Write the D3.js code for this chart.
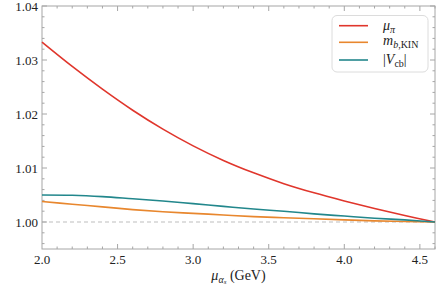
<!DOCTYPE html>
<html>
<head>
<meta charset="utf-8">
<script src="https://cdn.jsdelivr.net/npm/d3@7"></script>
<style>
html,body{margin:0;padding:0;background:#fff;}
svg text{font-family:"Liberation Serif","Times New Roman",serif;}
</style>
</head>
<body>
<svg id="chart" width="436" height="287"></svg>
<script>
const xValues = [2.0,2.2,2.4,2.6,2.8,3.0,3.2,3.4,3.6,3.8,4.0,4.2,4.4,4.6];
const muPi    = [1.0333,1.0288,1.0246,1.0207,1.0172,1.0141,1.0114,1.0091,1.0071,1.0054,1.0039,1.0025,1.0012,1.0000];
const mbKin   = [1.0038,1.0033,1.0028,1.0023,1.0019,1.0016,1.0013,1.0010,1.0008,1.0006,1.0004,1.0002,1.0001,1.0000];
const vcb     = [1.0050,1.00495,1.0047,1.0043,1.0039,1.0034,1.0029,1.0024,1.0020,1.0015,1.0011,1.0007,1.0004,1.0000];
const xTicks = [2.0,2.5,3.0,3.5,4.0,4.5];
const yTicks = [1.00,1.01,1.02,1.03,1.04];
const refValue = 1.00;

const svg = d3.select("#chart");
const m = {l:42, r:1, t:6, b:38};
const W = 436, H = 287;
const x = d3.scaleLinear().domain([2.0,4.6]).range([m.l, W-m.r]);
const y = d3.scaleLinear().domain([0.995,1.04]).range([H-m.b, m.t]);

const frameCol = "#a6a6a6";
const x0 = x.range()[0], x1 = x.range()[1], y0 = y.range()[0], y1 = y.range()[1];

// dashed reference line
svg.append("line").attr("x1",x0).attr("x2",x1).attr("y1",y(refValue)).attr("y2",y(refValue))
  .attr("stroke","#bdbdbd").attr("stroke-width",1).attr("stroke-dasharray","4,3");

// ticks
const xMinor = d3.range(21,47).map(d=>d/10);
const yMinor = d3.range(498,521).map(d=>d/500);
const tg = svg.append("g").attr("stroke",frameCol).attr("stroke-width",1);
xMinor.forEach(v=>{
  const major = xTicks.some(t=>Math.abs(t-v)<1e-9);
  const L = major?5:2.5;
  tg.append("line").attr("x1",x(v)).attr("x2",x(v)).attr("y1",y0).attr("y2",y0-L);
  tg.append("line").attr("x1",x(v)).attr("x2",x(v)).attr("y1",y1).attr("y2",y1+L);
});
yMinor.forEach(v=>{
  const major = yTicks.some(t=>Math.abs(t-v)<1e-9);
  const L = major?5:2.5;
  tg.append("line").attr("y1",y(v)).attr("y2",y(v)).attr("x1",x0).attr("x2",x0+L);
  tg.append("line").attr("y1",y(v)).attr("y2",y(v)).attr("x1",x1).attr("x2",x1-L);
});

// frame
svg.append("rect").attr("x",x0).attr("y",y1).attr("width",x1-x0).attr("height",y0-y1)
  .attr("fill","none").attr("stroke",frameCol).attr("stroke-width",1);

// tick labels
svg.append("g").selectAll("text").data(xTicks).join("text")
  .attr("x",d=>x(d)).attr("y",y0+15).attr("text-anchor","middle")
  .attr("font-size",13).attr("fill","#222").text(d=>d.toFixed(1));
svg.append("g").selectAll("text").data(yTicks).join("text")
  .attr("x",x0-4).attr("y",d=>y(d)+4.5).attr("text-anchor","end")
  .attr("font-size",13).attr("fill","#222").text(d=>d.toFixed(2));

// lines
const series = [
  {vals:muPi, color:"#e0362c"},
  {vals:mbKin, color:"#e8872e"},
  {vals:vcb, color:"#22878c"}
];
const line = d3.line().x(d=>x(d[0])).y(d=>y(d[1])).curve(d3.curveCatmullRom.alpha(0.5));
series.forEach(s=>{
  svg.append("path").datum(xValues.map((v,i)=>[v,s.vals[i]]))
    .attr("d",line).attr("fill","none").attr("stroke",s.color).attr("stroke-width",1.6);
});

// legend
const lg = svg.append("g");
lg.append("rect").attr("x",332).attr("y",15.5).attr("width",96).attr("height",56.5)
  .attr("rx",5).attr("fill","#fff").attr("stroke","#dcdcdc").attr("stroke-width",1);
const ly = [25.7,42.3,60];
series.forEach((s,i)=>{
  lg.append("line").attr("x1",339).attr("x2",368).attr("y1",ly[i]).attr("y2",ly[i])
    .attr("stroke",s.color).attr("stroke-width",1.6);
});
let t = lg.append("text").attr("x",383).attr("y",ly[0]+4).attr("font-size",14).attr("fill","#222");
t.append("tspan").attr("font-style","italic").text("μ");
t.append("tspan").attr("font-style","italic").attr("font-size",10).attr("dy",3).text("π");
t = lg.append("text").attr("x",383).attr("y",ly[1]+3).attr("font-size",14).attr("fill","#222");
t.append("tspan").attr("font-style","italic").text("m");
t.append("tspan").attr("font-style","italic").attr("font-size",10).attr("dy",3).text("b");
t.append("tspan").attr("font-size",10).text(",KIN");
t = lg.append("text").attr("x",383).attr("y",ly[2]+4).attr("font-size",14).attr("fill","#222");
t.append("tspan").text("|");
t.append("tspan").attr("font-style","italic").text("V");
t.append("tspan").attr("font-size",10).attr("dy",3).text("cb");
t.append("tspan").attr("dy",-3).text("|");

// x axis label
t = svg.append("text").attr("x",(x0+x1)/2).attr("y",280).attr("text-anchor","middle")
  .attr("font-size",14).attr("fill","#222");
t.append("tspan").attr("font-style","italic").text("μ");
t.append("tspan").attr("font-style","italic").attr("font-size",10).attr("dy",2.5).text("α");
t.append("tspan").attr("font-style","italic").attr("font-size",7).attr("dy",1.5).text("s");
t.append("tspan").attr("dy",-4).text(" (GeV)");
</script>
</body>
</html>
